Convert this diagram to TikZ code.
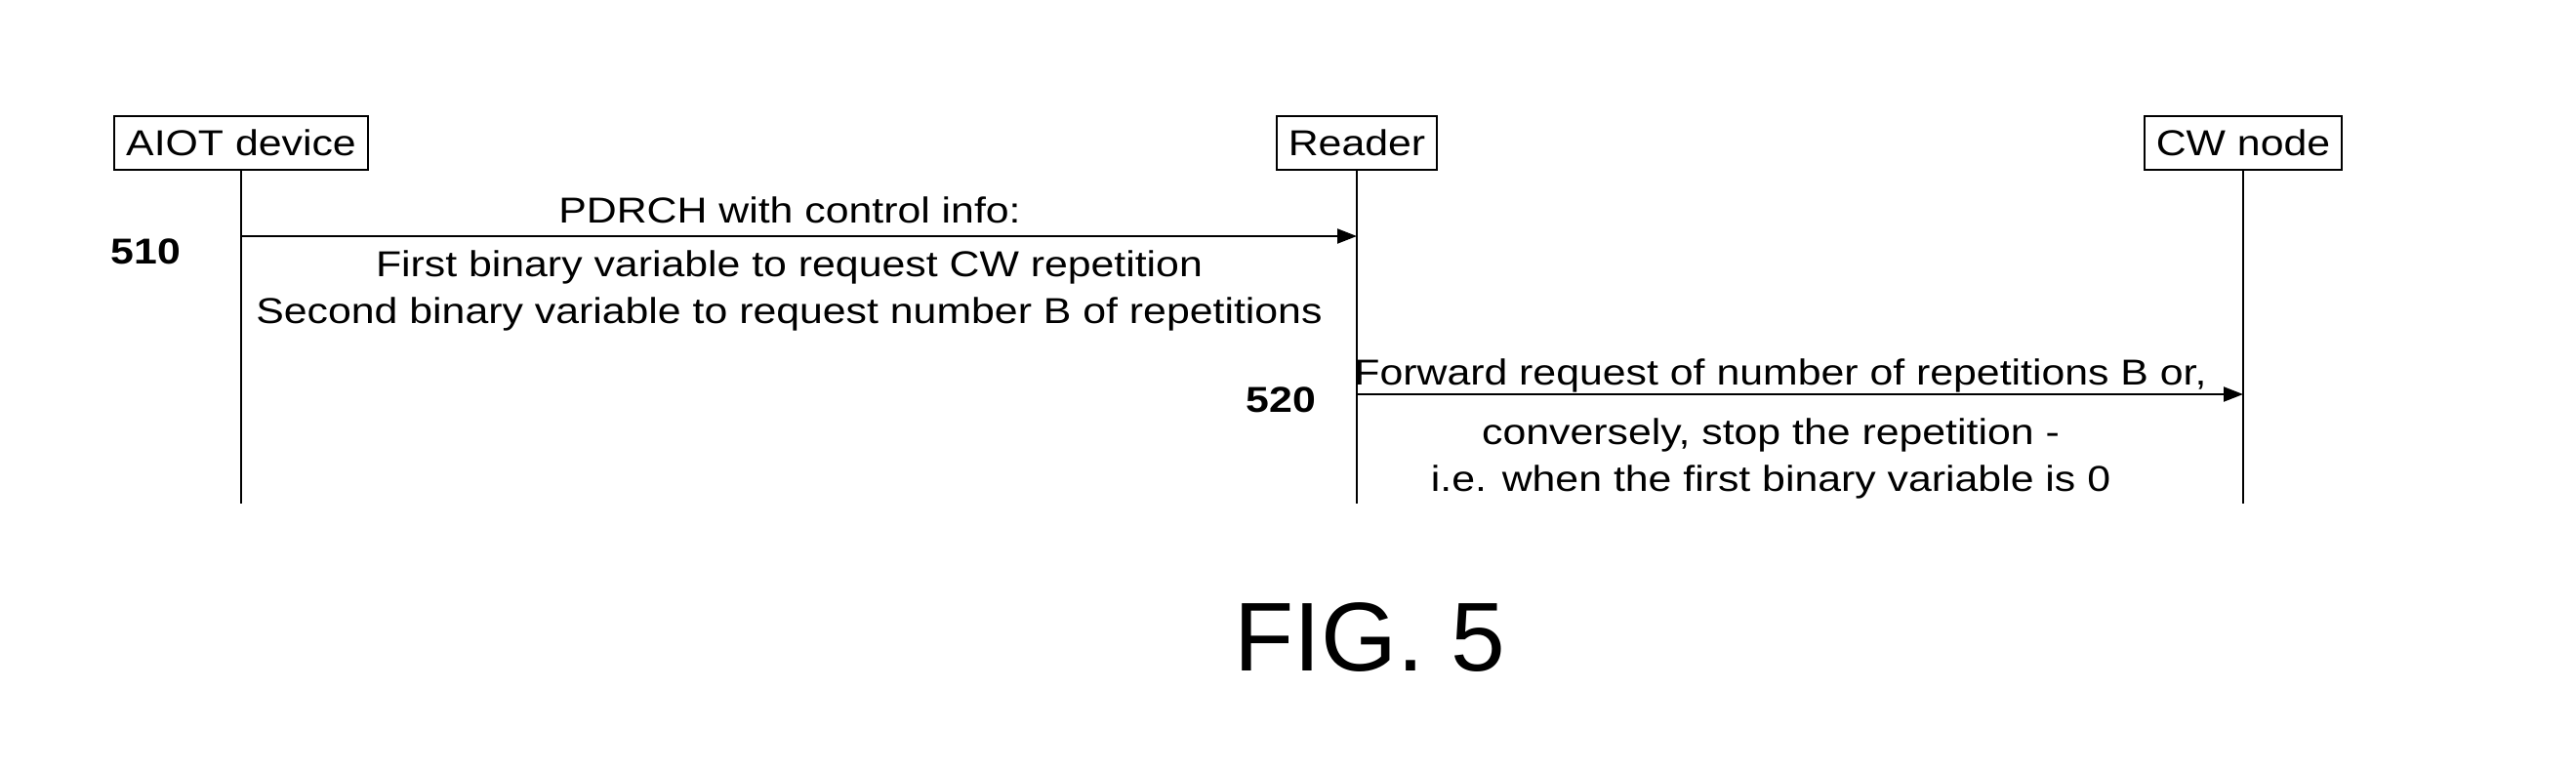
\documentclass[tikz,border=0pt]{standalone}
\usepackage{fontspec}
\setmainfont{Liberation Sans}[FakeStretch=1.16]
\newfontfamily\figfont{Liberation Sans}
\usetikzlibrary{arrows.meta}
\begin{document}
\begin{tikzpicture}[y=-1cm,
  every node/.style={font=\fontsize{10.5}{13.8}\selectfont},
  ent/.style={draw,line width=.6pt,minimum height=.55cm,inner xsep=.12cm,inner ysep=0pt},
  msg/.style={line width=.6pt,-{Triangle[length=.2cm,width=.15cm]}},
  txt/.style={align=center,inner sep=0pt},
  stepno/.style={font=\fontsize{10.5}{13.8}\selectfont\bfseries,anchor=base}]
\useasboundingbox(0,0)rectangle(26.39,7.88);
% entities and lifelines
\node[ent](dev)at(2.47,1.465){AIOT device};
\node[ent](rdr)at(13.9,1.465){Reader};
\node[ent](cwn)at(22.98,1.465){CW node};
\foreach \n/\x in {dev/2.47,rdr/13.9,cwn/22.98}{\coordinate(\n end)at(\x,5.16);\draw[line width=.6pt](\n)--(\n end);}
% 510
\coordinate(m1a)at(2.47,2.42);\coordinate(m1b)at(13.9,2.42);
\draw[msg](m1a)--(m1b);
\node[txt,anchor=base](m1t)at(8.09,2.28){PDRCH with control info:};
\node[txt,anchor=north](m1d)at(8.085,2.56){First binary variable to request CW repetition\\Second binary variable to request number B of repetitions};
\node[stepno](s510)at(1.495,2.70){510};
% 520
\coordinate(m2a)at(13.9,4.04);\coordinate(m2b)at(22.98,4.04);
\draw[msg](m2a)--(m2b);
\node[txt,anchor=base](m2t)at(18.24,3.94){Forward request of number of repetitions B or,};
\node[txt,anchor=north](m2d)at(18.14,4.28){conversely, stop the repetition -\\i.e. when the first binary variable is 0};
\node[stepno](s520)at(13.125,4.22){520};
\node[font=\fontsize{28.5}{30}\figfont,anchor=base](fig)at(14.035,6.87){FIG. 5};
\end{tikzpicture}
\end{document}
